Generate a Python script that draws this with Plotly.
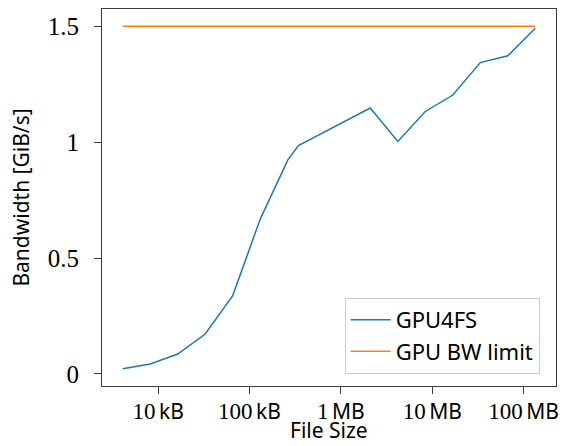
import plotly.graph_objects as go

# File sizes in bytes
file_sizes = [4096, 8192, 16384, 32768, 65536, 131072, 262144, 343000,
              2097152, 4194304, 8388608, 16777216, 33554432, 67108864, 134217728]
gpu4fs_bw = [0.022, 0.043, 0.086, 0.172, 0.338, 0.668, 0.922, 0.985,
             1.147, 1.003, 1.132, 1.203, 1.343, 1.372, 1.491]
limit_sizes = [4096, 134217728]
limit_bw = [1.5, 1.5]

x_tick_vals = [1e4, 1e5, 1e6, 1e7, 1e8]
x_tick_nums = ["10", "100", "1", "10", "100"]
x_tick_units = ["kB", "kB", "MB", "MB", "MB"]
y_tick_vals = [0, 0.5, 1, 1.5]
y_tick_text = ["0", "0.5", "1", "1.5"]

SERIF = "Liberation Serif"
SANS = "Noto Sans"

def mixed(num, unit):
    return f'<span style="font-family:{SERIF};font-size:23px">{num}</span>\u2009{unit}'

fig = go.Figure()
fig.add_trace(go.Scatter(x=file_sizes, y=gpu4fs_bw, mode="lines", name="GPU4FS",
                         line=dict(color="#1f77b4", width=1.5)))
fig.add_trace(go.Scatter(x=limit_sizes, y=limit_bw, mode="lines", name="GPU BW limit",
                         line=dict(color="#ff7f0e", width=1.5)))

axis_common = dict(showline=True, linecolor="#3a3a3a", linewidth=1, mirror=True,
                   showgrid=False, zeroline=False, ticks="outside", ticklen=7,
                   tickcolor="#3a3a3a", tickwidth=1, automargin=False)

fig.update_layout(
    width=562, height=446,
    margin=dict(l=102, r=6, t=9, b=60),
    paper_bgcolor="white", plot_bgcolor="white",
    font=dict(family=SANS, size=21, color="black"),
    showlegend=True,
    legend=dict(x=0.964, y=0.032, xanchor="right", yanchor="bottom",
                bgcolor="rgba(255,255,255,0.8)", bordercolor="#cccccc", borderwidth=1,
                itemwidth=40,
                font=dict(family=SANS, size=22)),
    xaxis=dict(type="log", range=[3.386, 8.354],
               tickvals=x_tick_vals,
               ticktext=[mixed(n, u) for n, u in zip(x_tick_nums, x_tick_units)],
               tickfont=dict(family=SANS, size=21),
               **axis_common),
    yaxis=dict(range=[-0.052, 1.574],
               tickvals=y_tick_vals, ticktext=y_tick_text,
               tickfont=dict(family=SERIF, size=25),
               ticklabelstandoff=10,
               title=dict(text="Bandwidth [GiB/s]", font=dict(family=SANS, size=21), standoff=12),
               **axis_common),
    annotations=[dict(text="File Size", xref="paper", yref="paper", x=0.5, y=-0.159,
                      xanchor="center", yanchor="bottom", showarrow=False,
                      font=dict(family=SANS, size=21, color="black"))],
)

fig.write_html("out.html", config={"displayModeBar": False},
               post_script="document.body.style.margin='0';document.body.style.overflow='hidden';")
